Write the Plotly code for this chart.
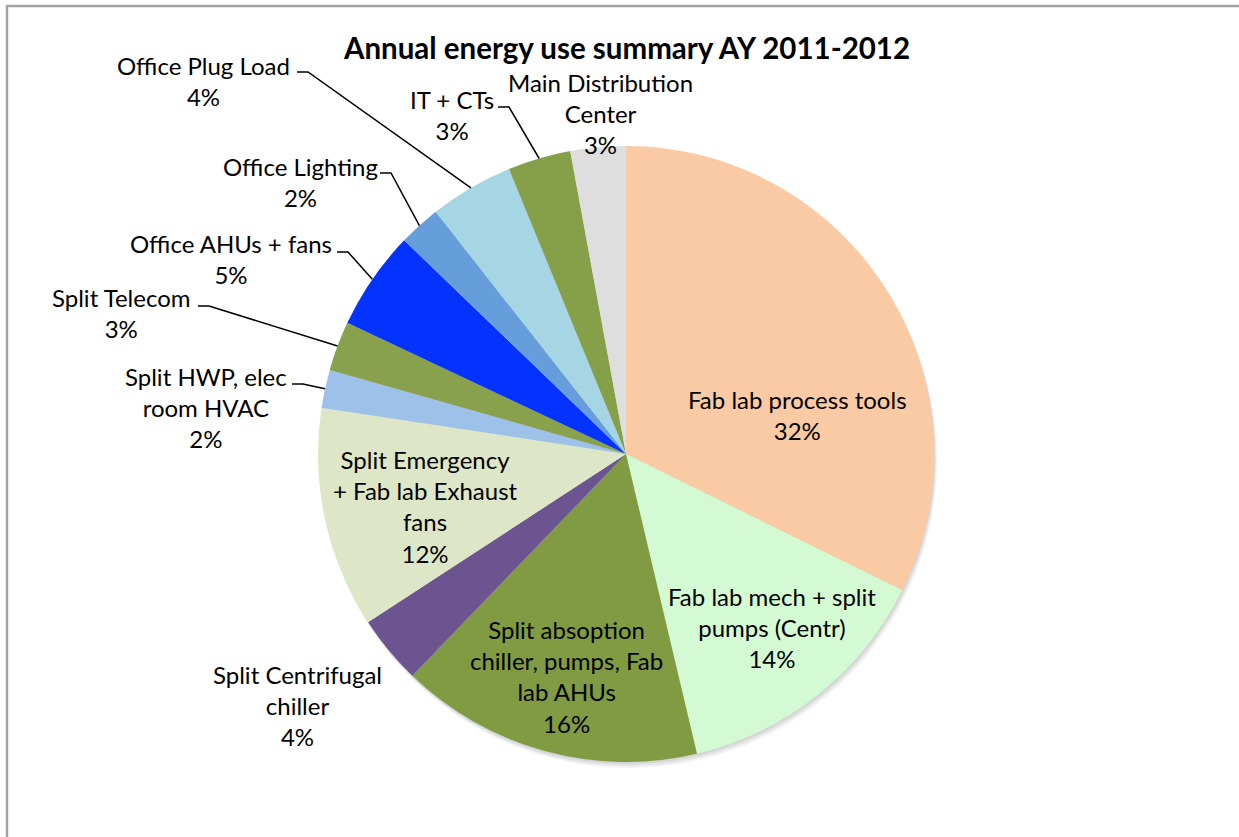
import math
import plotly.graph_objects as go

# ---------------- data ----------------
labels = [
    "Fab lab process tools",
    "Fab lab mech + split pumps (Centr)",
    "Split absoption chiller, pumps, Fab lab AHUs",
    "Split Centrifugal chiller",
    "Split Emergency + Fab lab Exhaust fans",
    "Split HWP, elec room HVAC",
    "Split Telecom",
    "Office AHUs + fans",
    "Office Lighting",
    "Office Plug Load",
    "IT + CTs",
    "Main Distribution Center",
]
# wrapped label text as shown on the chart
label_lines = [
    ["Fab lab process tools"],
    ["Fab lab mech + split", "pumps (Centr)"],
    ["Split absoption", "chiller, pumps, Fab", "lab AHUs"],
    ["Split Centrifugal", "chiller"],
    ["Split Emergency", "+ Fab lab Exhaust", "fans"],
    ["Split HWP, elec", "room HVAC"],
    ["Split Telecom"],
    ["Office AHUs + fans"],
    ["Office Lighting"],
    ["Office Plug Load"],
    ["IT + CTs"],
    ["Main Distribution", "Center"],
]
values = [32.3, 14.0, 15.9, 3.6, 11.6, 2.0, 2.6, 5.2, 2.2, 4.4, 3.3, 2.9]
title_text = "Annual energy use summary AY 2011-2012"

# ---------------- styles / layout ----------------
colors = ["#FACAA4", "#D4FAD4", "#819B42", "#6C5490", "#DEE6C8", "#9EC1EA",
          "#89A04C", "#0433FF", "#669EDC", "#A6D6E4", "#86A04A", "#DEDEDE"]

W, H = 1239, 837
CX, CY, R = 626, 454, 308          # pie centre / radius in pixels
FONT = "Lato"

# label block centres (pixels)
label_pos = [(797, 415), (772, 627), (566, 676), (297, 705), (425, 506),
             (206, 407), (121, 313), (231, 259), (300, 182), (203, 81),
             (452, 115), (600, 114)]
# leader line starting points (pixels) for outside labels
leader_start = {5: (292, 384), 6: (198, 306), 7: (337, 252),
                8: (380, 173), 9: (297, 72), 10: (498, 107)}


def fx(x):
    return x / W


def fy(y):
    return 1 - y / H


total = sum(values)

fig = go.Figure()

# soft drop shadow behind the pie
for (dx, dy, op) in [(1, 2, 0.06), (2, 4, 0.06), (3, 6, 0.05)]:
    fig.add_trace(go.Pie(
        values=[1], labels=["shadow"], sort=False,
        marker=dict(colors=[f"rgba(0,0,0,{op})"], line=dict(width=0)),
        textinfo="none", hoverinfo="skip", showlegend=False,
        domain=dict(x=[fx(CX - R + dx), fx(CX + R + dx)],
                    y=[fy(CY + R + dy), fy(CY - R + dy)]),
    ))

fig.add_trace(go.Pie(
    labels=labels, values=values, sort=False, direction="clockwise",
    rotation=0,
    marker=dict(colors=colors, line=dict(width=0)),
    textinfo="none", showlegend=False,
    domain=dict(x=[fx(CX - R), fx(CX + R)], y=[fy(CY + R), fy(CY - R)]),
))

annotations = []
shapes = []
cum = 0.0
for i, v in enumerate(values):
    mid = (cum + v / 2) / total * 2 * math.pi
    cum += v
    pct = f"{round(v / total * 100)}%"
    text = "<br>".join(label_lines[i] + [pct])
    x, y = label_pos[i]
    annotations.append(dict(
        x=fx(x), y=fy(y), xref="paper", yref="paper", text=text,
        showarrow=False, xanchor="center", yanchor="middle", align="center",
        font=dict(family=FONT, size=24, color="#000000"),
    ))
    if i in leader_start:
        sx, sy = leader_start[i]
        ex, ey = CX + R * math.sin(mid), CY - R * math.cos(mid)
        path = (f"M {fx(sx)} {fy(sy)} L {fx(sx + 11)} {fy(sy)} "
                f"L {fx(ex)} {fy(ey)}")
        shapes.append(dict(type="path", path=path, xref="paper", yref="paper",
                           line=dict(color="#000000", width=1.5)))

# outer chart frame
shapes.append(dict(type="rect", xref="paper", yref="paper",
                   x0=fx(7), y0=fy(H + 10), x1=fx(W + 10), y1=fy(6),
                   line=dict(color="#A3A3A3", width=2.5), layer="below"))

fig.update_layout(
    width=W, height=H,
    margin=dict(l=0, r=0, t=0, b=0),
    paper_bgcolor="white", plot_bgcolor="white",
    title=dict(text=f"<b>{title_text}</b>", x=fx(627), y=fy(49),
               xanchor="center", yanchor="middle", xref="paper", yref="container",
               font=dict(family=FONT, size=29.5, color="#000000")),
    annotations=annotations, shapes=shapes, showlegend=False,
)

fig.write_html("out.html",
               config={"displayModeBar": False},
               post_script="document.body.style.margin='0';"
                           "document.body.style.padding='0';")
